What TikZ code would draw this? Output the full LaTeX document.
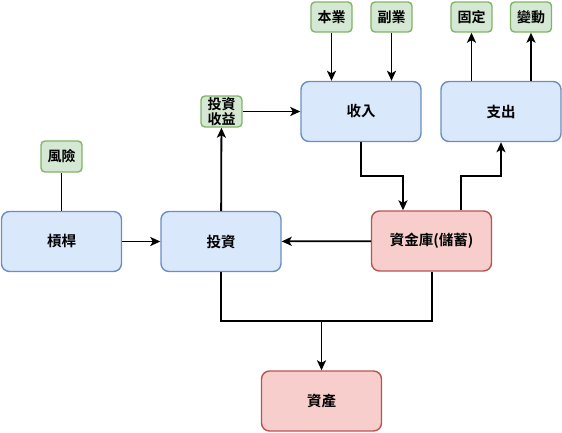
\documentclass[tikz,border=0pt]{standalone}
\usepackage{fontspec}
\setmainfont{Noto Sans CJK TC}[BoldFont={Noto Sans CJK TC Bold}]
\usetikzlibrary{arrows.meta}
\definecolor{bfill}{HTML}{DAE8FC}\definecolor{bdraw}{HTML}{6C8EBF}
\definecolor{rfill}{HTML}{F8CECC}\definecolor{rdraw}{HTML}{B85450}
\definecolor{gfill}{HTML}{D5E8D4}\definecolor{gdraw}{HTML}{82B366}
\begin{document}
\begin{tikzpicture}[x=1pt,y=-1pt,
  bigbox/.style={draw=bdraw,fill=bfill,line width=1.4pt,rounded corners=8pt,minimum width=120pt,minimum height=60pt,inner sep=0pt,font=\bfseries\fontsize{14.5}{16}\selectfont},
  redbox/.style={bigbox,draw=rdraw,fill=rfill},
  tagbox/.style={draw=gdraw,fill=gfill,line width=1.4pt,rounded corners=4pt,minimum width=41pt,minimum height=30pt,inner sep=0pt,align=center,font=\bfseries\fontsize{14}{15}\selectfont},
  arr/.style={line width=1.8pt,-{Stealth[length=10pt,width=9pt,inset=2.5pt]}},
  plain/.style={line width=1pt}]
\useasboundingbox (0,0) rectangle (562,432);
\node[bigbox] (lev) at (61.5,241.5) {槓桿};
\node[bigbox] (inv) at (221,241.5) {投資};
\node[redbox] (pool) at (431.5,241) {資金庫(儲蓄)};
\node[redbox] (asset) at (321.5,401) {資產};
\node[bigbox] (inc) at (361,111.5) {收入};
\node[bigbox] (exp) at (501,111.5) {支出};
\node[tagbox] (main) at (331.5,17) {本業};
\node[tagbox] (side) at (391.5,17) {副業};
\node[tagbox] (fix) at (471.5,17) {固定};
\node[tagbox] (var) at (531,17) {變動};
\node[tagbox,minimum height=31pt,font=\bfseries\fontsize{14}{14.5}\selectfont] (ret) at (221.5,111.5) {投資\\收益};
\node[tagbox,minimum height=31pt] (risk) at (61.5,156.5) {風險};
\coordinate (a1) at (361,176);
\coordinate (a2) at (403,176);
\coordinate (b1) at (461,176);
\coordinate (b2) at (501,176);
\coordinate (m1) at (221,321);
\coordinate (m2) at (432,321);
\coordinate (m0) at (321.5,321);
\draw[plain] (risk) -- (lev);
\draw[arr] (lev) -- (inv);
\draw[arr] (inv) -- (ret);
\draw[arr] (ret) -- (inc);
\draw[arr] (main) -- (main |- inc.north);
\draw[arr] (side) -- (side |- inc.north);
\draw[arr] (exp.north -| fix) -- (fix);
\draw[arr] (exp.north -| var) -- (var);
\draw[arr] (inc.south) -- (a1) -- (a2) -- (a2 |- pool.north);
\draw[arr] (b1 |- pool.north) -- (b1) -- (b2) -- (exp.south);
\draw[arr] (pool) -- (inv);
\draw[line width=1.8pt] (inv.south) -- (m1) -- (m2) -- (m2 |- pool.south);
\draw[arr] (m0) -- (asset);
\end{tikzpicture}
\end{document}
